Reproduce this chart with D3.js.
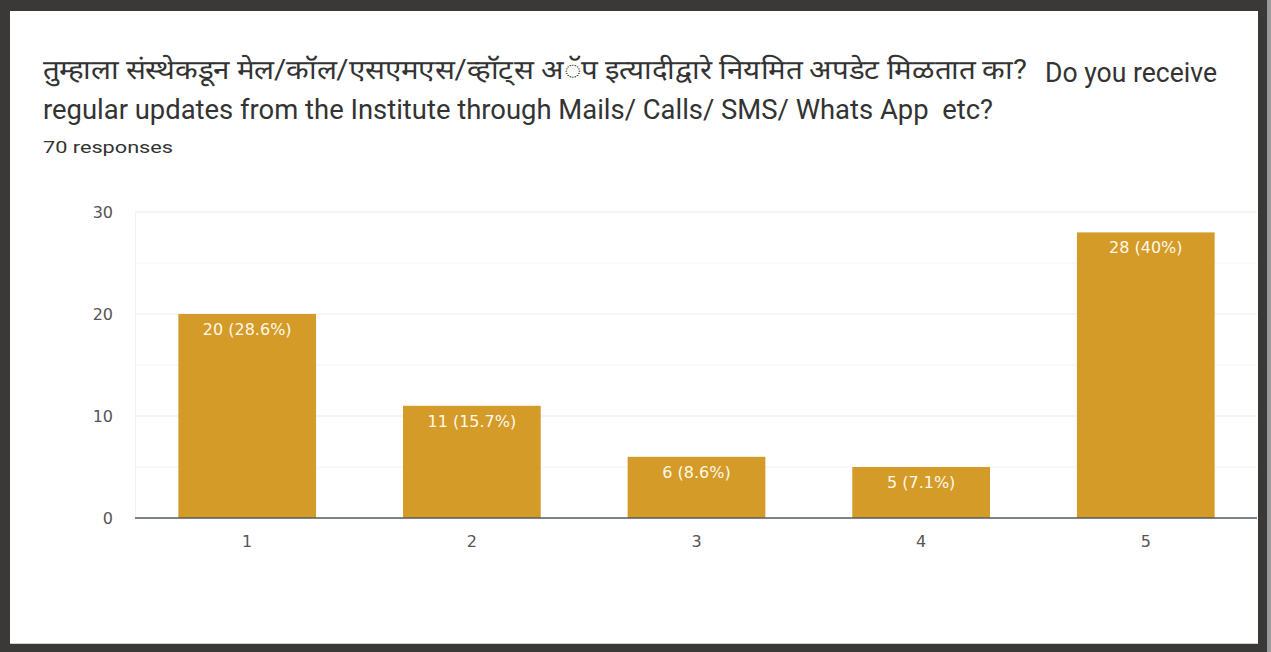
<!DOCTYPE html>
<html>
<head>
<meta charset="utf-8">
<script src="https://cdn.jsdelivr.net/npm/d3@7"></script>
<style>
  html, body { margin: 0; padding: 0; background: #3a3937; }
  svg { display: block; }
  text { white-space: pre; }
</style>
</head>
<body>
<script>
const categories = ["1", "2", "3", "4", "5"];
const counts = [20, 11, 6, 5, 28];
const percentLabels = ["28.6%", "15.7%", "8.6%", "7.1%", "40%"];
const yTicks = [0, 10, 20, 30];
const yMinorTicks = [5, 15, 25];
const titleMarathi = "तुम्हाला संस्थेकडून मेल/कॉल/एसएमएस/व्हॉट्स अॅप इत्यादीद्वारे नियमित अपडेट मिळतात का?";
const titleEnglish1 = "Do you receive";
const titleEnglish2 = "regular updates from the Institute through Mails/ Calls/ SMS/ Whats App  etc?";
const subtitle = "70 responses";

const W = 1271, H = 652;
const svg = d3.select("body").append("svg").attr("width", W).attr("height", H);

// frame edges and card
svg.append("rect").attr("x", 1267).attr("y", 0).attr("width", 4).attr("height", H).attr("fill", "#9a9a9a");
svg.append("rect").attr("x", 10).attr("y", 11).attr("width", 1248).attr("height", 633).attr("fill", "#ffffff");
svg.append("line").attr("x1", 10).attr("x2", 1258).attr("y1", 643.5).attr("y2", 643.5).attr("stroke", "#d0d0d0");

const font = "Roboto, Arial, sans-serif";
const labelFont = "'DejaVu Sans', Arial, sans-serif";

svg.append("text").attr("x", 43).attr("y", 79)
  .attr("font-family", font).attr("font-size", 27).attr("fill", "#333333")
  .attr("textLength", 984).attr("lengthAdjust", "spacingAndGlyphs")
  .text(titleMarathi);
svg.append("text").attr("x", 1045).attr("y", 82)
  .attr("font-family", font).attr("font-size", 27).attr("fill", "#333333")
  .attr("textLength", 172).attr("lengthAdjust", "spacingAndGlyphs")
  .text(titleEnglish1);
svg.append("text").attr("x", 43).attr("y", 119)
  .attr("font-family", font).attr("font-size", 27).attr("fill", "#333333")
  .attr("textLength", 950).attr("lengthAdjust", "spacingAndGlyphs")
  .text(titleEnglish2);

svg.append("text").attr("x", 43).attr("y", 153)
  .attr("font-family", font).attr("font-size", 16).attr("fill", "#333333")
  .attr("textLength", 130).attr("lengthAdjust", "spacingAndGlyphs")
  .text(subtitle);

const x = d3.scaleBand().domain(categories).range([135, 1258]).paddingInner(0.387).paddingOuter(0.193);
const y = d3.scaleLinear().domain([0, 30]).range([518, 212]);

// minor grid
svg.append("g").selectAll("line").data(yMinorTicks).join("line")
  .attr("x1", 135).attr("x2", 1257).attr("y1", d => y(d)).attr("y2", d => y(d))
  .attr("stroke", "#f4f4f4").attr("stroke-width", 1);
// major grid
svg.append("g").selectAll("line").data(yTicks.filter(d => d > 0)).join("line")
  .attr("x1", 135).attr("x2", 1257).attr("y1", d => y(d)).attr("y2", d => y(d))
  .attr("stroke", "#ebebeb").attr("stroke-width", 1);
// faint left edge of plot
svg.append("line").attr("x1", 135.5).attr("x2", 135.5).attr("y1", y(30)).attr("y2", y(0))
  .attr("stroke", "#f2f2f2");

// y axis labels
const yAxis = d3.axisLeft(y).tickValues(yTicks).tickSize(0).tickPadding(0);
const gy = svg.append("g").attr("transform", "translate(113,0)").call(yAxis);
gy.select(".domain").remove();
gy.selectAll("text").attr("font-family", labelFont).attr("font-size", 16).attr("fill", "#555555");

// bars
svg.append("g").selectAll("rect").data(counts).join("rect")
  .attr("x", (d, i) => x(categories[i]))
  .attr("y", d => y(d))
  .attr("width", x.bandwidth())
  .attr("height", d => y(0) - y(d))
  .attr("fill", "#d49b29");

// bar labels
svg.append("g").selectAll("text").data(counts).join("text")
  .attr("x", (d, i) => x(categories[i]) + x.bandwidth() / 2)
  .attr("y", d => y(d) + 21)
  .attr("text-anchor", "middle")
  .attr("font-family", labelFont).attr("font-size", 16).attr("fill", "#fff8e8")
  .text((d, i) => `${d} (${percentLabels[i]})`);

// baseline
svg.append("line").attr("x1", 135).attr("x2", 1257).attr("y1", y(0)).attr("y2", y(0))
  .attr("stroke", "#555a5e").attr("stroke-width", 1.5);

// x axis labels
const xAxis = d3.axisBottom(x).tickSize(0).tickPadding(0);
const gx = svg.append("g").attr("transform", `translate(0,${y(0) + 18})`).call(xAxis);
gx.select(".domain").remove();
gx.selectAll("text").attr("font-family", labelFont).attr("font-size", 16).attr("fill", "#555555");
</script>
</body>
</html>
